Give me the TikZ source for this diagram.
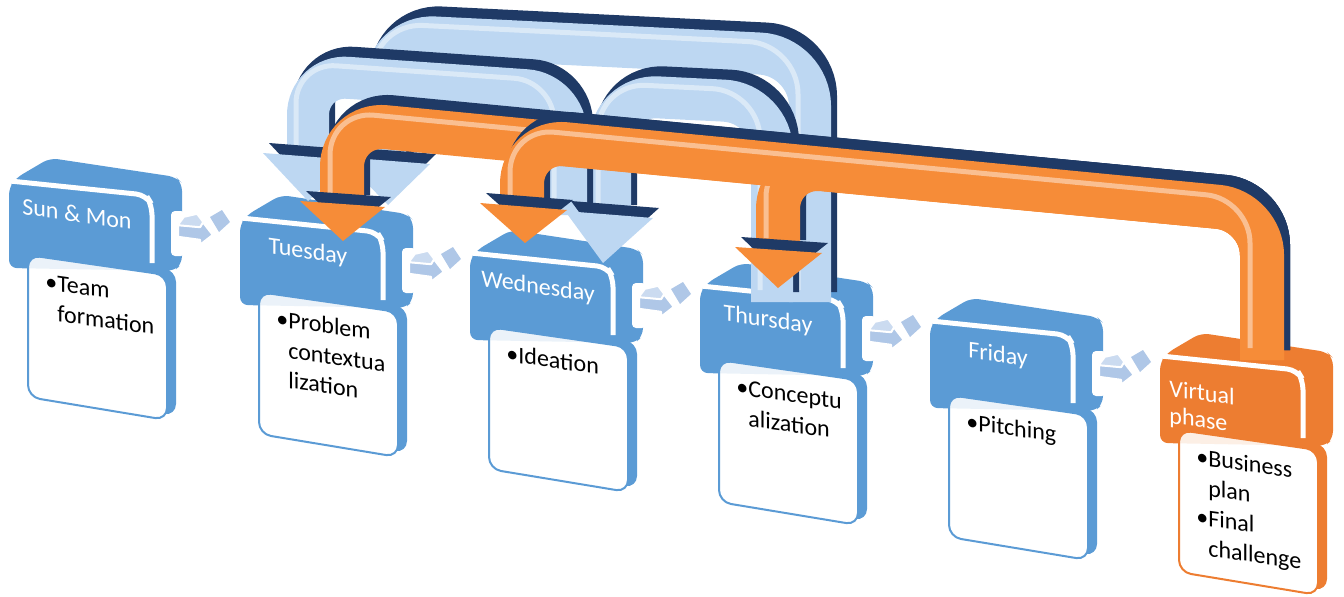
\documentclass[tikz,border=0pt]{standalone}
\usepackage{fontspec}
\setmainfont{Carlito}
\definecolor{stageblue}{HTML}{5B9BD5}
\definecolor{stageorange}{HTML}{ED7D31}
\definecolor{linkblue}{HTML}{AFC7E7}
\definecolor{linkbluetop}{HTML}{CBDBF0}
\definecolor{loopblue}{HTML}{BDD7F2}
\definecolor{looporange}{HTML}{F68C38}
\definecolor{loopnavy}{HTML}{1F3A66}
\tikzset{
  hdtext/.style={text=white,inner sep=0pt,align=left,yslant=-0.14,
                 font=\fontsize{12}{13.5}\selectfont},
  bdtext/.style={inner sep=0pt,anchor=north west,yslant=-0.14,
                 font=\fontsize{12}{15}\selectfont},
}
% one day: header block, title, card with bullets
\newcommand{\stagebox}[8]{%
  \begin{scope}[shift={(#2,#3)}]
    \coordinate (#1) at (0,0);
    \fill[#4,rounded corners=4pt] (0,4) -- (7,-5) -- (41,-25) -- (167,-6) -- (173,0) -- (173,81) -- (165,88) -- (0,85) -- cycle;
    \draw[white,line width=2.5pt,rounded corners=5pt] (1,-2) -- (137,12) -- (143,22) -- (143,80);
    \node[hdtext,anchor=#5] (#1h) at (#6) {#7};
    \fill[#4,rounded corners=6pt] (28,68) -- (167,87) -- (167,233) -- (28,210) -- cycle;
    \filldraw[draw=#4,fill=white,line width=1pt,rounded corners=6pt] (19,72) -- (158,92) -- (158,237) -- (19,214) -- cycle;
    \begin{scope}
      \clip[rounded corners=6pt] (19,72) -- (158,92) -- (158,237) -- (19,214) -- cycle;
      \fill[#4,opacity=.12] (0,4) -- (0,85) -- (165,88) -- (173,81) -- (173,0) -- cycle;
    \end{scope}
    \node[bdtext] (#1b) at (36,85) {\begin{tabular}{@{}l@{}l@{}}#8\end{tabular}};
  \end{scope}}
% small arrow from one day to the next
\newcommand{\stagelink}[2]{%
  \begin{scope}[shift={(#1,#2)}]
    \fill[white,rounded corners=2pt] (162,28) rectangle (176,73);
    \filldraw[linkblue,draw=white,line width=1.2pt,line join=round] (169,42) -- (191,44) -- (194,39) -- (204,52) -- (191,62) -- (191,57) -- (169,54) -- cycle;
    \filldraw[linkbluetop,draw=white,line width=.8pt] (169,42) -- (175,34) -- (188,31) -- (194,39) -- (191,44) -- cycle;
    \fill[linkblue] (201,34) -- (213,27) -- (221,39) -- (210,49) -- cycle;
  \end{scope}}
% 3D loop band and its head
\newcommand{\loopband}[3]{%
  \draw[#2,loopnavy,shift={(6,-10)}] #3;
  \draw[#2,#1] #3;
  \draw[#2,white,opacity=.45,line width=2.5pt,shift={(-12,-12)}] #3;}
\newcommand{\loophead}[2]{%
  \fill[loopnavy,shift={(6,-10)}] #2;
  \fill[#1] #2;}

\begin{document}
\begin{tikzpicture}[x=0.5pt,y=-0.5pt]
  \useasboundingbox (0,0) rectangle (1344,596);
  % days
  \stagebox{sunmon}{9}{183}{stageblue}{base}{68,39}{Sun \& Mon}{\textbullet & Team\\ & formation}
  \stagebox{tue}{240}{220}{stageblue}{base}{68,39}{Tuesday}{\textbullet & Problem\\ & contextua\\ & lization}
  \stagebox{wed}{470}{255}{stageblue}{base}{68,39}{Wednesday}{\textbullet & Ideation}
  \stagebox{thu}{700}{288}{stageblue}{base}{68,39}{Thursday}{\textbullet & Conceptu\\ & alization}
  \stagebox{fri}{930}{323}{stageblue}{base}{68,39}{Friday}{\textbullet & Pitching}
  \stagebox{virt}{1160}{358}{stageorange}{north west}{9,21}{Virtual\\phase}{\textbullet & Business\\ & plan\\ \textbullet & Final\\ & challenge}
  \stagelink{9}{183}
  \stagelink{240}{220}
  \stagelink{470}{255}
  \stagelink{700}{288}
  \stagelink{930}{323}
  % light blue loops (back)
  \loopband{loopblue}{line width=21pt,rounded corners=25pt}{(810,302) -- (810,56) -- (385,35) -- (385,162)}
  \loophead{loopblue}{(341,157) -- (430,164) -- (388,205) -- cycle}
  \loopband{loopblue}{line width=21pt,rounded corners=24pt}{(772,302) -- (772,103) -- (610,95) -- (610,215)}
  \loopband{loopblue}{line width=21pt,rounded corners=20pt}{(566,215) -- (566,93) -- (308,75) -- (308,160)}
  \loophead{loopblue}{(263,153) -- (352,160) -- (308,201) -- cycle}
  \loophead{loopblue}{(565,211) -- (653,218) -- (603,263) -- cycle}
  % orange loops (front)
  \loopband{looporange}{line width=22pt,rounded corners=22pt}{(1262,360) -- (1262,211) -- (778,165) -- (778,250)}
  \loophead{looporange}{(735,247) -- (822,253) -- (778,288) -- cycle}
  \loopband{looporange}{line width=22pt,rounded corners=22pt}{(1262,360) -- (1262,211) -- (342,123) -- (342,205)}
  \loophead{looporange}{(300,201) -- (385,207) -- (343,241) -- cycle}
  \loopband{looporange}{line width=22pt,rounded corners=22pt}{(1262,360) -- (1262,211) -- (522,140) -- (522,208)}
  \loophead{looporange}{(480,203) -- (567,210) -- (525,243) -- cycle}
\end{tikzpicture}
\end{document}
